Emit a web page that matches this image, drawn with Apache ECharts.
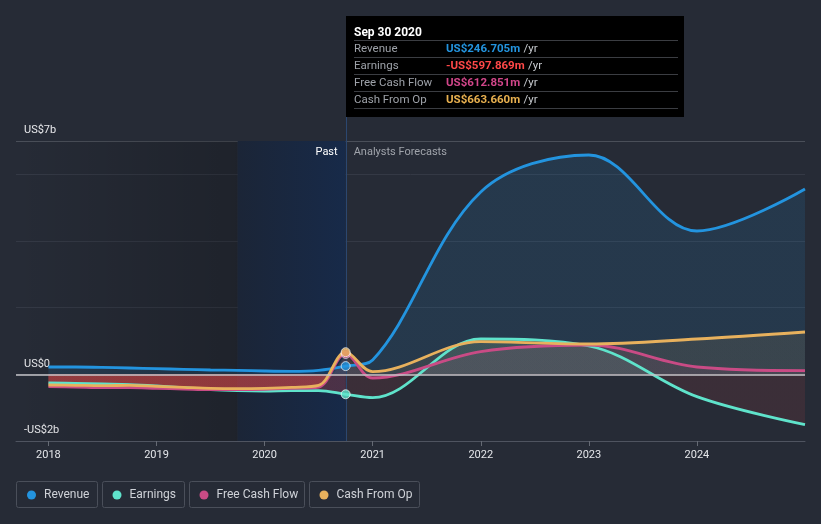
<!DOCTYPE html>
<html>
<head>
<meta charset="utf-8">
<script src="https://cdn.jsdelivr.net/npm/echarts@6/dist/echarts.min.js"></script>
<style>
html,body{margin:0;padding:0;background:#262b36;}
#chart{width:821px;height:524px;}
</style>
</head>
<body>
<div id="chart"></div>
<script>
// ---------- DATA ----------
const seriesNames = ['Revenue', 'Earnings', 'Free Cash Flow', 'Cash From Op'];
const seriesColors = ['#2394df', '#5fe3cb', '#c94b85', '#e8b15d'];

// quarterly history (US$ billions), decimal years
const pastX = [2018.0, 2018.25, 2018.5, 2018.75, 2019.0, 2019.25, 2019.5, 2019.75, 2020.0, 2020.25, 2020.5, 2020.75];
const revenuePast  = [0.22, 0.22, 0.21, 0.19, 0.17, 0.15, 0.13, 0.12, 0.10, 0.09, 0.12, 0.247];
const earningsPast = [-0.26, -0.27, -0.29, -0.31, -0.35, -0.40, -0.46, -0.49, -0.50, -0.49, -0.49, -0.598];
const fcfPast      = [-0.37, -0.38, -0.40, -0.40, -0.42, -0.44, -0.46, -0.46, -0.45, -0.42, -0.38, 0.613];
const cfoPast      = [-0.32, -0.33, -0.34, -0.33, -0.36, -0.39, -0.42, -0.43, -0.42, -0.39, -0.33, 0.664];

// analyst forecasts (US$ billions)
const forecastX = [2021, 2022, 2023, 2024, 2025];
const revenueForecast  = [0.43, 5.47, 6.58, 4.30, 5.56];
const earningsForecast = [-0.70, 1.06, 0.85, -0.67, -1.51];
const fcfForecast      = [-0.11, 0.68, 0.88, 0.22, 0.11];
const cfoForecast      = [0.08, 0.98, 0.91, 1.06, 1.27];

// axes
const xTickYears = [2018, 2019, 2020, 2021, 2022, 2023, 2024];
const yLabelValues = [7, 0, -2];
const yLabelTexts = ['US$7b', 'US$0', '-US$2b'];

// regions
const pastBandStart = 2019.75;
const nowX = 2020.75;

// tooltip box
const tooltipDate = 'Sep 30 2020';
const tooltipValues = ['US$246.705m', '-US$597.869m', 'US$612.851m', 'US$663.660m'];
const tooltipValueColors = ['#2394df', '#ff4848', '#d2468a', '#e8b04f'];

// ---------- BUILD ----------
const pastSets = [revenuePast, earningsPast, fcfPast, cfoPast];
const foreSets = [revenueForecast, earningsForecast, fcfForecast, cfoForecast];
const pairs = (xs, ys) => xs.map((x, i) => [x, ys[i]]);

const FONT = 'Roboto, "Noto Sans", sans-serif';
const SMOOTH = 0.35;
const chart = echarts.init(document.getElementById('chart'), null, {renderer: 'canvas'});

function hexA(hex, a) {
  const n = parseInt(hex.slice(1), 16);
  return 'rgba(' + ((n >> 16) & 255) + ',' + ((n >> 8) & 255) + ',' + (n & 255) + ',' + a + ')';
}

function signedFill(L, pos, neg) {
  if (!L) return {color: 'rgba(0,0,0,0)'};
  const f = (L.y0 - L.yTop) / (L.yBot - L.yTop);
  return {opacity: 1, color: new echarts.graphic.LinearGradient(0, L.yTop, 0, L.yBot, [
    {offset: 0, color: pos}, {offset: f, color: pos}, {offset: f, color: neg}, {offset: 1, color: neg}], true)};
}

function buildOption(L) {
  const series = [];
  // background regions
  series.push({
    id: 'regions', type: 'line', data: [], z: 1, silent: true,
    markArea: {
      silent: true,
      data: [
        [{xAxis: 2017.7, itemStyle: {color: new echarts.graphic.LinearGradient(0, 0, 1, 0, [
            {offset: 0, color: 'rgba(0,0,0,0)'}, {offset: 1, color: 'rgba(0,0,0,0.2)'}])}},
         {xAxis: pastBandStart}],
        [{xAxis: pastBandStart,
          itemStyle: {color: new echarts.graphic.LinearGradient(0, 0, 1, 0, [
            {offset: 0, color: '#1b2537'}, {offset: 1, color: '#172a49'}])},
          label: {show: true, formatter: 'Past', position: 'insideTopRight', distance: 6, offset: [-2, 0],
                  color: '#ffffff', fontSize: 11, fontFamily: FONT}},
         {xAxis: nowX}],
        [{xAxis: nowX, itemStyle: {color: 'rgba(0,0,0,0)'},
          label: {show: true, formatter: 'Analysts Forecasts', position: 'insideTopLeft', distance: 6, offset: [2, 0],
                  color: '#a0a4ab', fontSize: 11, fontFamily: FONT}},
         {xAxis: 2025}]
      ]
    },
    markLine: {
      silent: true, symbol: 'none', label: {show: false},
      lineStyle: {color: '#c4c4c8', width: 1.5, type: 'solid'},
      data: [{yAxis: 0}]
    }
  });

  // area fills: past (stronger red below zero) and forecast
  seriesNames.forEach((name, i) => {
    const pos = i === 0 ? hexA(seriesColors[i], 0.13) : hexA(seriesColors[i], 0.1);
    const lastPast = [pastX[pastX.length - 1], pastSets[i][pastSets[i].length - 1]];
    series.push({
      id: 'ap' + i, type: 'line', z: 2, silent: true,
      data: pairs(pastX, pastSets[i]),
      smooth: SMOOTH, symbol: 'none', showSymbol: false,
      lineStyle: {width: 0, opacity: 0},
      areaStyle: signedFill(L, pos, 'rgba(215,70,70,0.27)')
    });
    series.push({
      id: 'af' + i, type: 'line', z: 2, silent: true,
      data: [lastPast].concat(pairs(forecastX, foreSets[i])),
      smooth: SMOOTH, symbol: 'none', showSymbol: false,
      lineStyle: {width: 0, opacity: 0},
      areaStyle: signedFill(L, pos, 'rgba(210,70,70,0.12)')
    });
  });

  // the lines
  seriesNames.forEach((name, i) => {
    series.push({
      id: 's' + i, name: name, type: 'line', z: 3,
      data: pairs(pastX, pastSets[i]).concat(pairs(forecastX, foreSets[i])),
      smooth: SMOOTH,
      symbol: 'none', showSymbol: false,
      lineStyle: {color: seriesColors[i], width: 2.8},
      itemStyle: {color: seriesColors[i]}
    });
  });

  series.push({
    id: 'dots', type: 'scatter', z: 10, symbol: 'circle', symbolSize: 9, silent: true,
    data: seriesNames.map((n, i) => ({
      value: [pastX[pastX.length - 1], pastSets[i][pastSets[i].length - 1]],
      itemStyle: {color: seriesColors[i], borderColor: 'rgba(255,255,255,0.85)', borderWidth: 1}
    }))
  });

  // legends: one per item
  const legendLefts = [27, 112.5, 199.5, 319.5];
  const boxes = [[16, 81], [102, 82], [189, 115], [309, 110]];
  const legend = seriesNames.map((name, i) => ({
    data: [{name: name, icon: 'circle'}],
    left: legendLefts[i], top: 489, padding: 0,
    itemWidth: 9, itemHeight: 9, selectedMode: false,
    textStyle: {color: '#cfd2d8', fontSize: 12, fontFamily: FONT, padding: [0, 0, 0, 3]}
  }));

  const graphic = boxes.map((b, i) => ({
    type: 'rect', id: 'box' + i, silent: true,
    shape: {x: b[0] + 0.5, y: 481.5, width: b[1], height: 26, r: 2},
    style: {fill: 'rgba(0,0,0,0)', stroke: '#4a4f5a', lineWidth: 1}
  }));

  if (L) {
    const px = Math.round(L.px) + 0.5;
    graphic.push({
      type: 'line', id: 'cross', silent: true, z: 2,
      shape: {x1: px, y1: 117, x2: px, y2: L.yBot},
      style: {stroke: '#2b4770', lineWidth: 1}
    });
    const children = [
      {type: 'rect', shape: {x: 0, y: 0, width: 338, height: 101}, style: {fill: '#000000'}},
      {type: 'text', x: 8, y: 16.5, style: {text: tooltipDate, fill: '#ffffff', font: 'bold 12px ' + FONT, verticalAlign: 'middle'}}
    ];
    for (let k = 0; k < 5; k++) {
      children.push({type: 'line', shape: {x1: 8, y1: 24.5 + 17 * k, x2: 332, y2: 24.5 + 17 * k},
                     style: {stroke: '#3b3d42', lineWidth: 1}});
    }
    seriesNames.forEach((name, i) => {
      const yc = 33.5 + 17 * i;
      children.push({type: 'text', x: 8, y: yc, style: {text: name, fill: '#9ea2a9', font: '11.5px ' + FONT, verticalAlign: 'middle'}});
      children.push({type: 'text', x: 100, y: yc, style: {
        text: '{v|' + tooltipValues[i] + '} {u|/yr}', verticalAlign: 'middle',
        rich: {
          v: {fill: tooltipValueColors[i], fontSize: 11.5, fontWeight: 'bold', fontFamily: FONT},
          u: {fill: '#c9ccd1', fontSize: 11.5, fontFamily: FONT}
        }
      }});
    });
    graphic.push({type: 'group', id: 'tip', x: px - 0.5, y: 16, silent: true, z: 20, children: children});
  }

  return {
    backgroundColor: '#262b36',
    animation: false,
    textStyle: {fontFamily: FONT},
    grid: {left: 16, right: 16, top: 141, bottom: 83, containLabel: false, outerBoundsMode: 'none'},
    xAxis: {
      type: 'value', min: 2017.7, max: 2025,
      splitLine: {show: false},
      axisLine: {show: true, onZero: false, lineStyle: {color: '#4f5460', width: 1}},
      axisTick: {show: true, customValues: xTickYears, length: 5, lineStyle: {color: '#656a74'}},
      axisLabel: {customValues: xTickYears, color: '#e4e6ea', fontSize: 11, margin: 9,
                  formatter: v => String(Math.round(v))}
    },
    yAxis: {
      type: 'value', min: -2, max: 7, interval: 2,
      axisLine: {show: false}, axisTick: {show: false},
      axisLabel: {
        inside: true, margin: 8, color: '#e8e9ec', fontSize: 11, verticalAlign: 'bottom', padding: [0, 0, 5, 0],
        formatter: v => { const k = yLabelValues.indexOf(Math.round(v)); return (k >= 0 && Math.abs(v - Math.round(v)) < 1e-6) ? yLabelTexts[k] : ''; }
      },
      splitLine: {show: true, lineStyle: {color: ['#4f5460', '#3a3f4a', '#343945', '#343945', '#343945', '#4a4f59'], width: 1}}
    },
    legend: legend,
    graphic: graphic,
    series: series
  };
}

chart.setOption(buildOption(null));
const L = {
  y0: chart.convertToPixel({yAxisIndex: 0}, 0),
  yTop: chart.convertToPixel({yAxisIndex: 0}, 7),
  yBot: chart.convertToPixel({yAxisIndex: 0}, -2),
  px: chart.convertToPixel({xAxisIndex: 0}, nowX)
};
chart.setOption(buildOption(L), true);
</script>
</body>
</html>
